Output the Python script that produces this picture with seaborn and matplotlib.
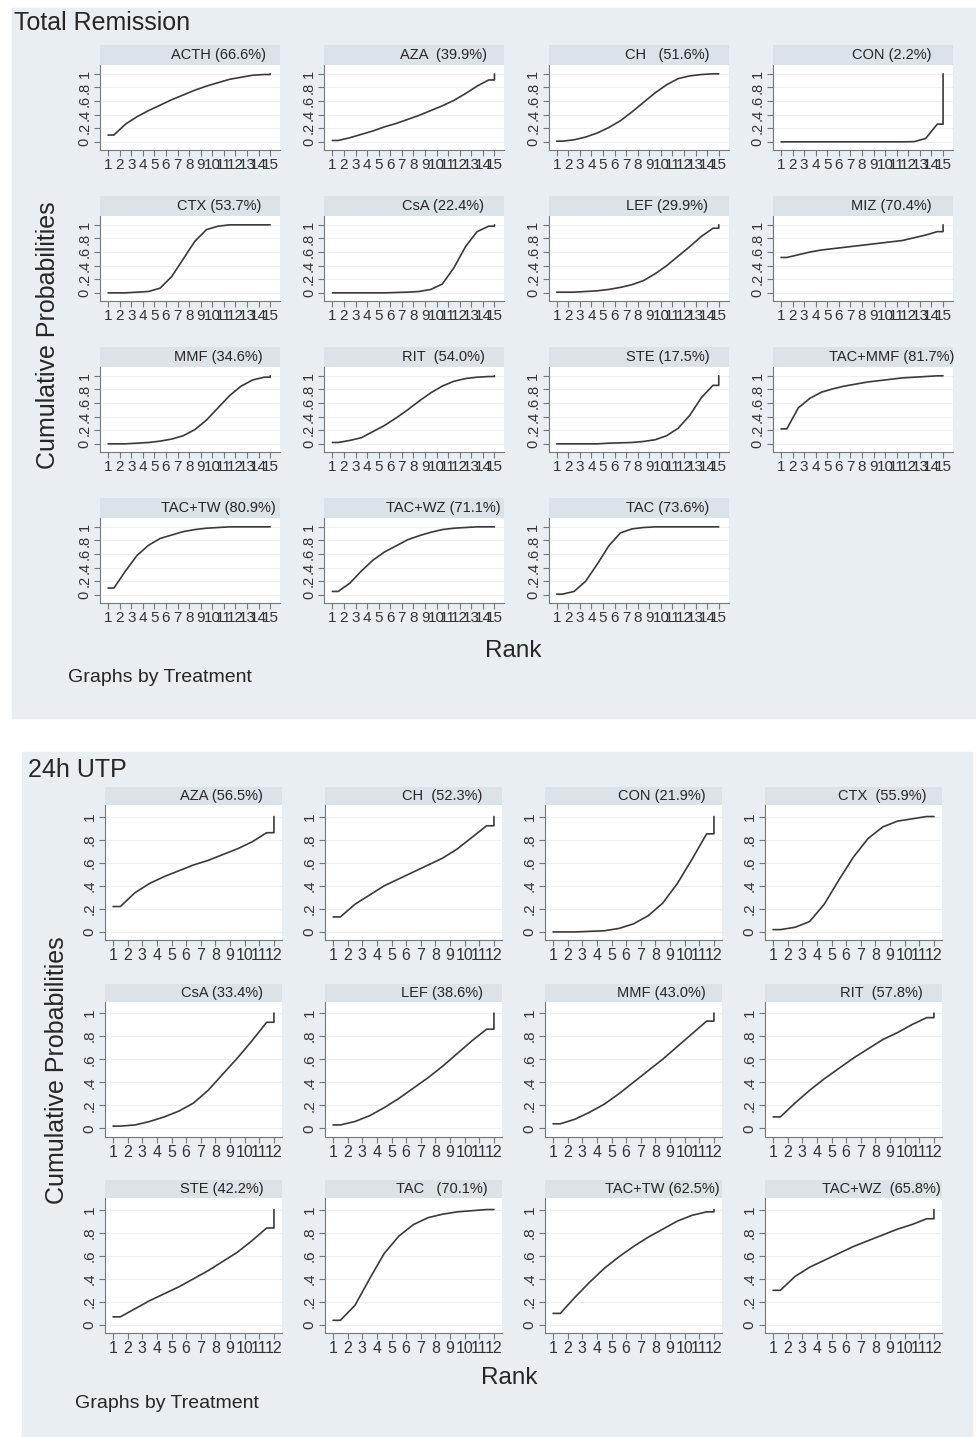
import pandas as pd
import seaborn as sns
import matplotlib.pyplot as plt
from matplotlib.patches import Rectangle

sns.set_theme(style="white")
plt.rcParams['font.family'] = ['Liberation Sans', 'DejaVu Sans']

W, H = 976, 1437

# ---- Total Remission (15 ranks) ----
tr_labels = ["ACTH (66.6%)", "AZA  (39.9%)", "CH   (51.6%)", "CON (2.2%)",
             "CTX (53.7%)", "CsA (22.4%)", "LEF (29.9%)", "MIZ (70.4%)",
             "MMF (34.6%)", "RIT  (54.0%)", "STE (17.5%)", "TAC+MMF (81.7%)",
             "TAC+TW (80.9%)", "TAC+WZ (71.1%)", "TAC (73.6%)"]
tr_cum = [
    [.10, .26, .37, .46, .54, .62, .69, .76, .82, .87, .92, .95, .98, .99, 1],
    [.02, .06, .11, .16, .22, .27, .33, .39, .46, .53, .61, .71, .82, .91, 1],
    [.01, .03, .07, .13, .21, .31, .44, .58, .72, .84, .93, .97, .99, 1, 1],
    [0, 0, 0, 0, 0, 0, 0, 0, 0, 0, 0, .003, .05, .26, 1],
    [0, 0, .01, .02, .07, .24, .50, .76, .93, .98, 1, 1, 1, 1, 1],
    [0, 0, 0, 0, 0, .005, .01, .02, .05, .13, .37, .68, .90, .98, 1],
    [.01, .01, .02, .03, .05, .08, .12, .18, .28, .40, .54, .68, .83, .95, 1],
    [.52, .56, .60, .63, .65, .67, .69, .71, .73, .75, .77, .81, .85, .90, 1],
    [0, 0, .01, .02, .04, .07, .12, .21, .35, .53, .71, .85, .94, .98, 1],
    [.02, .05, .09, .18, .27, .38, .50, .63, .75, .85, .92, .96, .98, .99, 1],
    [0, 0, 0, 0, .01, .015, .02, .035, .06, .12, .23, .42, .68, .86, 1],
    [.22, .53, .67, .76, .81, .85, .88, .91, .93, .95, .97, .98, .99, 1, 1],
    [.10, .35, .58, .73, .83, .88, .93, .96, .98, .99, 1, 1, 1, 1, 1],
    [.05, .17, .35, .51, .63, .72, .81, .87, .92, .96, .98, .99, 1, 1, 1],
    [.01, .05, .20, .45, .72, .91, .97, .99, 1, 1, 1, 1, 1, 1, 1],
]

# ---- 24h UTP (12 ranks) ----
utp_labels = ["AZA (56.5%)", "CH  (52.3%)", "CON (21.9%)", "CTX  (55.9%)",
              "CsA (33.4%)", "LEF (38.6%)", "MMF (43.0%)", "RIT  (57.8%)",
              "STE (42.2%)", "TAC   (70.1%)", "TAC+TW (62.5%)", "TAC+WZ  (65.8%)"]
utp_cum = [
    [.22, .34, .42, .48, .53, .58, .62, .67, .72, .78, .86, 1],
    [.13, .24, .32, .40, .46, .52, .58, .64, .72, .82, .92, 1],
    [0, 0, .005, .01, .03, .07, .14, .25, .42, .63, .85, 1],
    [.02, .04, .09, .24, .45, .65, .81, .91, .96, .98, 1, 1],
    [.02, .03, .06, .10, .15, .22, .33, .47, .61, .76, .92, 1],
    [.03, .06, .11, .18, .26, .35, .44, .54, .65, .76, .86, 1],
    [.04, .08, .14, .21, .30, .40, .50, .60, .71, .82, .93, 1],
    [.10, .22, .33, .43, .52, .61, .69, .77, .83, .90, .96, 1],
    [.07, .14, .21, .27, .33, .40, .47, .55, .63, .73, .84, 1],
    [.04, .17, .40, .62, .77, .87, .93, .96, .98, .99, 1, 1],
    [.10, .24, .37, .49, .59, .68, .76, .83, .90, .95, .98, 1],
    [.30, .42, .50, .56, .62, .68, .73, .78, .83, .87, .92, 1],
]

panel_bg = "#e9eef3"
strip_bg = "#dbe2e8"
line_col = "#3a3a3a"
text_col = "#262626"


def px(x, y, w, h):
    return [x / W, 1 - (y + h) / H, w / W, h / H]


def path_frame(cum):
    # cumulative ranking line: flat first half-step, last step jumps up to 1
    n = len(cum)
    xs = [1] + [r + 0.5 for r in range(1, n)] + [n, n]
    ys = [cum[0]] + list(cum[:-1]) + [cum[-2], cum[-1]]
    return pd.DataFrame({"Rank": xs, "p": ys})


def draw_grid(fig, labels, cums, x0, y0, dx, dy, w, sh, ph, xlim, ylim,
              xfs, yfs):
    n = len(cums[0])
    for i, (lab, cum) in enumerate(zip(labels, cums)):
        row, col = divmod(i, 4)
        left = x0 + dx * col
        top = y0 + dy * row
        hax = fig.add_axes(px(left, top, w, sh))
        hax.set_facecolor(strip_bg)
        hax.set_xticks([])
        hax.set_yticks([])
        for s in hax.spines.values():
            s.set_visible(False)
        hax.text(0.66, 0.48, lab, ha="center", va="center", fontsize=10.5,
                 color=text_col, transform=hax.transAxes)

        ax = fig.add_axes(px(left, top + sh, w, ph))
        ax.set_facecolor("white")
        sns.lineplot(data=path_frame(cum), x="Rank", y="p", ax=ax, sort=False,
                     estimator=None, color=line_col, lw=1.2)
        ax.set_xlim(*xlim)
        ax.set_ylim(*ylim)
        ax.set_xticks(range(1, n + 1))
        ax.set_xticklabels([str(k) for k in range(1, n + 1)], fontsize=xfs)
        ax.set_yticks([0, .2, .4, .6, .8, 1])
        ax.set_yticklabels(["0", ".2", ".4", ".6", ".8", "1"], rotation=90,
                           va="center", fontsize=yfs)
        ax.grid(axis="y", color="#eef1f4", lw=0.8)
        ax.set_xlabel("")
        ax.set_ylabel("")
        for s in ["top", "right"]:
            ax.spines[s].set_visible(False)
        for s in ["left", "bottom"]:
            ax.spines[s].set_color("#777777")
            ax.spines[s].set_linewidth(0.8)
        ax.tick_params(direction="out", length=4, width=0.8, color="#777777",
                       labelcolor="#333333", pad=2, left=True, bottom=True)


fig = plt.figure(figsize=(W / 100, H / 100), dpi=100)
fig.patch.set_facecolor("white")

fig.add_artist(Rectangle((12 / W, 1 - 718 / H), 964 / W, 710 / H,
                         transform=fig.transFigure, color=panel_bg, zorder=0))
fig.add_artist(Rectangle((22 / W, 0), 950 / W, 1 - 752 / H,
                         transform=fig.transFigure, color=panel_bg, zorder=0))

# top panel
draw_grid(fig, tr_labels, tr_cum, x0=100, y0=45, dx=224.3, dy=151, w=180,
          sh=20, ph=85, xlim=(0.3, 15.85), ylim=(-0.12, 1.13),
          xfs=11, yfs=10.5)
fig.text(14 / W, 1 - 23 / H, "Total Remission", fontsize=18, va="center",
         ha="left", color=text_col)
fig.text(48 / W, 1 - 335 / H, "Cumulative Probabilities", fontsize=18,
         rotation=90, va="center", ha="center", color=text_col)
fig.text(513 / W, 1 - 651 / H, "Rank", fontsize=17.5, va="center",
         ha="center", color=text_col)
fig.text(68 / W, 1 - 678 / H, "Graphs by Treatment", fontsize=14,
         va="center", ha="left", color=text_col)

# bottom panel
draw_grid(fig, utp_labels, utp_cum, x0=105, y0=787, dx=220, dy=196.5, w=177,
          sh=18, ph=135, xlim=(0.45, 12.55), ylim=(-0.07, 1.1),
          xfs=11.5, yfs=11)
fig.text(28 / W, 1 - 770 / H, "24h UTP", fontsize=18, va="center",
         ha="left", color=text_col)
fig.text(57 / W, 1 - 1070 / H, "Cumulative Probabilities", fontsize=18,
         rotation=90, va="center", ha="center", color=text_col)
fig.text(509 / W, 1 - 1378 / H, "Rank", fontsize=17.5, va="center",
         ha="center", color=text_col)
fig.text(75 / W, 1 - 1404 / H, "Graphs by Treatment", fontsize=14,
         va="center", ha="left", color=text_col)

fig.savefig("out.png", dpi=100)
